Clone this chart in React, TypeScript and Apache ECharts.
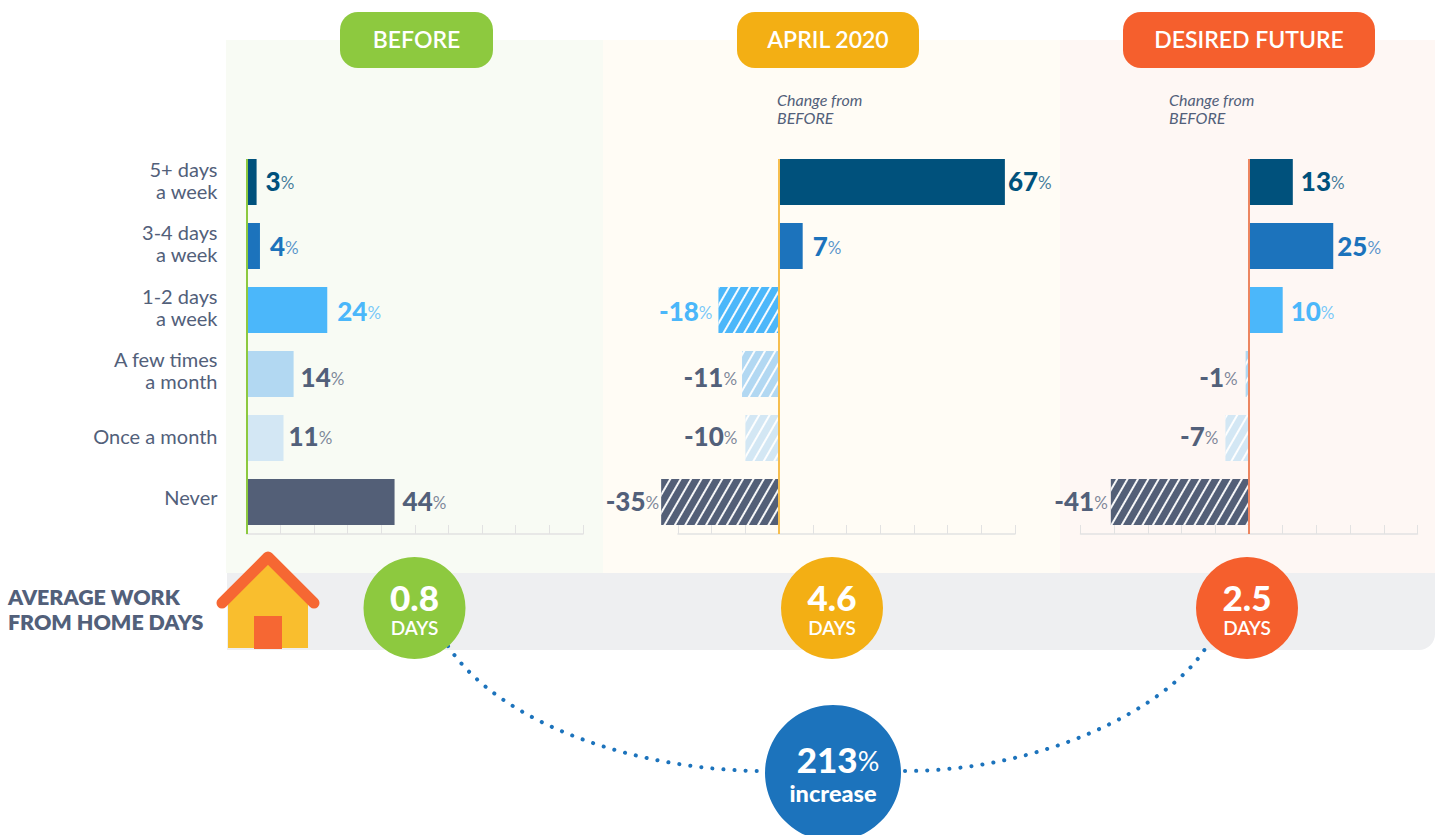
import React, { useEffect, useRef } from "react";
import * as echarts from "echarts";

const categories = ["5+ days\na week", "3-4 days\na week", "1-2 days\na week", "A few times\na month", "Once a month", "Never"];
const beforeValues = [3, 4, 24, 14, 11, 44];
const aprilValues = [67, 7, -18, -11, -10, -35];
const desiredValues = [13, 25, 10, -1, -7, -41];
const averageDays = ["0.8", "4.6", "2.5"];
const panelTitles = ["BEFORE", "APRIL 2020", "DESIRED FUTURE"];
const increaseValue = "213";

const barColors = ["#00517C", "#1C73BC", "#4BB7FA", "#B2D8F2", "#D3E7F4", "#535F77"];
const labelColors = ["#00517C", "#1C73BC", "#4BB7FA", "#52607A", "#52607A", "#52607A"];
const labelDy = [-1, 0, 1, 3, -2, -1];
const categoryLift = [4, 7, 6, 8, 4, 10];
const beforeGaps = [9, 10, 10, 7, 5, 8];
const aprilGaps = [3, 10, 6, 5, 8, 2];
const desiredGaps = [8, 4, 8, 8, 7, 3];

const FONT = "Lato";
const SLATE = "#52607A";

function makeSeries(index: number, values: number[], gaps: number[], lineColor: string) {
  return {
    type: "bar",
    xAxisIndex: index,
    yAxisIndex: index,
    barWidth: 46,
    clip: false,
    silent: true,
    data: values.map((v, i) => ({
      value: v,
      itemStyle: {
        color: barColors[i],
        decal:
          v < 0
            ? {
                symbol: "rect",
                symbolSize: 1,
                dashArrayX: [1, 0],
                dashArrayY: [1.2, 6.6],
                rotation: -Math.PI / 3,
                color: "rgba(255,255,255,0.95)",
              }
            : undefined,
      },
      label: {
        show: true,
        position: v < 0 ? "left" : "right",
        distance: gaps[i],
        offset: [0, labelDy[i]],
        formatter: `{n|${v}}{p|%}`,
        rich: {
          n: { fontFamily: FONT, fontSize: 26, fontWeight: 900, color: labelColors[i] },
          p: { fontFamily: FONT, fontSize: 17, fontWeight: 400, color: labelColors[i], opacity: 0.75, padding: [3, 0, 0, 0] },
        },
      },
    })),
    markLine: {
      silent: true,
      symbol: "none",
      label: { show: false },
      lineStyle: { color: lineColor, width: 2, type: "solid" },
      data: [[{ xAxis: 0, y: 159 }, { xAxis: 0, y: 534 }]],
    },
  };
}

const centred = (text: string, x: number, y: number, size: number, weight: number, fill = "#fff") => ({
  type: "text",
  x,
  y,
  style: { text, fill, fontFamily: FONT, fontSize: size, fontWeight: weight, lineHeight: Math.round(size * 0.85), align: "center", verticalAlign: "middle", textAlign: "center", textVerticalAlign: "middle" },
});

const plain = (text: string, x: number, y: number, size: number, weight: number, italic = false) => ({
  type: "text",
  x,
  y,
  style: { text, fill: SLATE, fontFamily: FONT, fontSize: size, fontWeight: weight, fontStyle: italic ? "italic" : "normal", align: "left", verticalAlign: "middle", textAlign: "left", textVerticalAlign: "middle" },
});

const pill = (x: number, width: number, color: string, title: string) => [
  { type: "rect", shape: { x, y: 12, width, height: 56, r: 18 }, style: { fill: color } },
  centred(title, x + width / 2, 38.5, 23, 600),
];

const dayCircle = (x: number, color: string, value: string) => [
  { type: "circle", shape: { cx: x, cy: 608, r: 51 }, style: { fill: color } },
  centred(value, x, 596.5, 35, 900),
  centred("DAYS", x, 627.5, 19, 600),
];

export default function App() {
  const ref = useRef<HTMLDivElement>(null);
  useEffect(() => {
    document.body.style.margin = "0";
    const chart = echarts.init(ref.current!, undefined, { renderer: "svg" });
    const grids = [
      { left: 246.5, width: 336.5, top: 150, height: 384 },
      { left: 678, width: 337, top: 150, height: 384 },
      { left: 1080.5, width: 337, top: 150, height: 384 },
    ];
    const ranges = [
      [0, 100],
      [-30, 70],
      [-50, 50],
    ];
    const dots = { stroke: "#1C73BC", lineWidth: 4, lineCap: "round", lineDash: [0.1, 11], fill: "none" };
    const categoryRich: Record<string, object> = {
      t: { fontFamily: FONT, fontSize: 20, lineHeight: 22, color: SLATE, align: "right" },
    };
    categoryLift.forEach((h, i) => {
      categoryRich[`s${i}`] = { fontSize: 1, lineHeight: h, color: "transparent" };
    });
    chart.setOption({
      animation: false,
      backgroundColor: "#fff",
      graphic: {
        elements: [
          { type: "rect", shape: { x: 226, y: 40, width: 377, height: 533 }, style: { fill: "#F8FBF4" } },
          { type: "rect", shape: { x: 603, y: 40, width: 457, height: 533 }, style: { fill: "#FFFCF5" } },
          { type: "rect", shape: { x: 1060, y: 40, width: 375, height: 533 }, style: { fill: "#FEF7F4" } },
          { type: "rect", shape: { x: 227, y: 573, width: 1208, height: 77, r: [0, 0, 16, 0] }, style: { fill: "#EEEFF1" } },
          ...pill(340, 153, "#8DC93F", panelTitles[0]),
          ...pill(737, 182, "#F3AF14", panelTitles[1]),
          ...pill(1123, 252, "#F55F2D", panelTitles[2]),
          plain("Change from", 777, 99.5, 16, 400, true),
          plain("BEFORE", 777, 117.5, 16, 400, true),
          plain("Change from", 1169, 99.5, 16, 400, true),
          plain("BEFORE", 1169, 117.5, 16, 400, true),
          plain("AVERAGE WORK", 8, 597, 21.4, 800),
          plain("FROM HOME DAYS", 8, 622, 21.4, 800),
          { type: "polygon", shape: { points: [[228, 604], [268, 564], [308, 604], [308, 648], [228, 648]] }, style: { fill: "#F9BE2E" } },
          { type: "rect", shape: { x: 254, y: 616, width: 28, height: 33 }, style: { fill: "#F66733" } },
          { type: "polyline", shape: { points: [[222, 603], [268, 557], [314, 603]] }, style: { stroke: "#F66733", lineWidth: 11, lineCap: "round", lineJoin: "round", fill: "none" } },
          { type: "bezierCurve", shape: { x1: 448, y1: 646, cpx1: 500, cpy1: 725, cpx2: 640, cpy2: 771, x2: 765, y2: 771 }, style: dots },
          { type: "bezierCurve", shape: { x1: 905, y1: 771, cpx1: 1040, cpy1: 771, cpx2: 1165, cpy2: 710, x2: 1205, y2: 649 }, style: dots },
          ...dayCircle(414.5, "#8DC93F", averageDays[0]),
          ...dayCircle(832, "#F3AF14", averageDays[1]),
          ...dayCircle(1247, "#F55F2D", averageDays[2]),
          { type: "circle", shape: { cx: 833, cy: 773, r: 68 }, style: { fill: "#1C73BC" } },
          {
            type: "text",
            x: 838,
            y: 759,
            style: {
              text: `{a|${increaseValue}}{b|%}`,
              fill: "#fff",
              align: "center",
              verticalAlign: "middle",
              textAlign: "center",
              textVerticalAlign: "middle",
              rich: {
                a: { fontFamily: FONT, fontSize: 35, fontWeight: 900, lineHeight: 30, fill: "#fff", color: "#fff" },
                b: { fontFamily: FONT, fontSize: 27, fontWeight: 400, lineHeight: 30, fill: "#fff", color: "#fff", padding: [3, 0, 0, 0] },
              },
            },
          },
          centred("increase", 833, 793, 23.5, 900),
        ],
      },
      grid: grids,
      xAxis: ranges.map((r, i) => ({
        type: "value",
        gridIndex: i,
        min: r[0],
        max: r[1],
        interval: 10,
        position: "bottom",
        axisLine: { show: true, onZero: false, lineStyle: { color: "#E2E2E2", width: 1.5 } },
        axisTick: { show: true, inside: true, length: 9, lineStyle: { color: "#E2E2E2", width: 1 } },
        axisLabel: { show: false },
        splitLine: { show: false },
      })),
      yAxis: ranges.map((_, i) => ({
        type: "category",
        gridIndex: i,
        inverse: true,
        data: categories,
        axisLine: { show: false },
        axisTick: { show: false },
        axisLabel:
          i === 0
            ? {
                show: true,
                align: "right",
                margin: 29,
                formatter: (value: string, idx: number) =>
                  value.split("\n").map((line) => `{t|${line}}`).join("\n") + `\n{s${idx}| }`,
                rich: categoryRich,
              }
            : { show: false },
      })),
      series: [
        makeSeries(0, beforeValues, beforeGaps, "#8DC93F"),
        makeSeries(1, aprilValues, aprilGaps, "#F6BE4F"),
        makeSeries(2, desiredValues, desiredGaps, "#EC8560"),
      ],
    });
    return () => chart.dispose();
  }, []);
  return <div ref={ref} style={{ position: "absolute", left: 0, top: 0, width: 1439, height: 835, overflow: "hidden" }} />;
}
